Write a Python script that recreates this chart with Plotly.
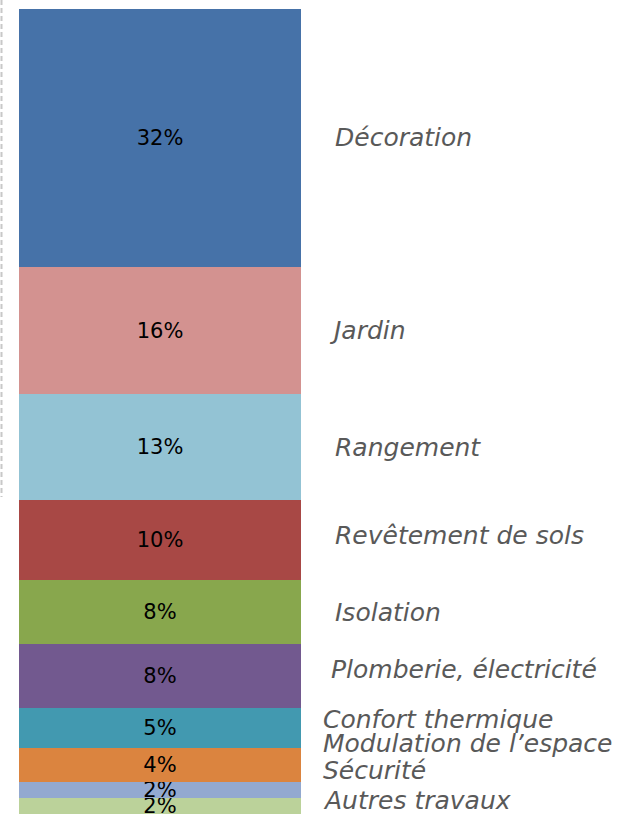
import plotly.graph_objects as go

# Data (top segment first)
categories = ["Décoration", "Jardin", "Rangement", "Revêtement de sols", "Isolation",
              "Plomberie, électricité", "Confort thermique", "Modulation de l\u2019espace",
              "Sécurité", "Autres travaux"]
values = [32.05, 15.8, 13.2, 9.9, 7.95, 7.95, 4.97, 4.2, 2.0, 2.0]
colors = ["#4672A8", "#D39290", "#93C3D4", "#A84845", "#88A74D",
          "#72598F", "#4299B0", "#DB843F", "#93A9D0", "#BBD29A"]

# Layout-only tweaks for the category labels (pixel shifts / x positions)
label_yshift = [0, 0, 0, 5, 0, 7, 9, 21, 19, 5]
label_xpx = [333, 327, 333, 333, 333, 329, 321, 321, 321, 321]

W, H = 623, 815
fig = go.Figure()

order = list(range(len(values)))[::-1]
for i in order:
    fig.add_trace(go.Bar(
        x=["total"], y=[values[i]], name=categories[i],
        marker=dict(color=colors[i], line=dict(width=0)),
        texttemplate="%{y:.0f}%", textposition="inside", insidetextanchor="middle",
        constraintext="none",
        textfont=dict(family="DejaVu Sans", size=21, color="#000000"),
        showlegend=False, hoverinfo="skip",
    ))

total = sum(values)
cum = 0.0
centers = {}
for i in order:
    centers[i] = cum + values[i] / 2
    cum += values[i]

for i in range(len(values)):
    fig.add_annotation(
        x=label_xpx[i] / W, xref="paper", xanchor="left",
        y=centers[i], yref="y", yanchor="middle", yshift=label_yshift[i],
        text="<i>" + categories[i] + "</i>", showarrow=False,
        font=dict(family="DejaVu Sans", size=25, color="#595959"),
    )

fig.add_shape(type="line", xref="paper", yref="paper",
              x0=1.5 / W, x1=1.5 / W, y0=1, y1=1 - 497 / H,
              line=dict(color="#C8C8C8", width=2, dash="5px,3px"))

fig.update_layout(
    width=W, height=H, barmode="stack", bargap=0,
    margin=dict(l=0, r=0, t=0, b=0),
    paper_bgcolor="white", plot_bgcolor="white",
    xaxis=dict(domain=[19 / W, 301 / W], visible=False, range=[-0.5, 0.5]),
    yaxis=dict(domain=[1 / H, 1 - 9 / H], visible=False, range=[0, total]),
    uniformtext=dict(minsize=21, mode="show"),
)

fig.write_html("out.html", config={"displayModeBar": False},
               post_script="document.body.style.margin='0';document.body.style.overflow='hidden';")
